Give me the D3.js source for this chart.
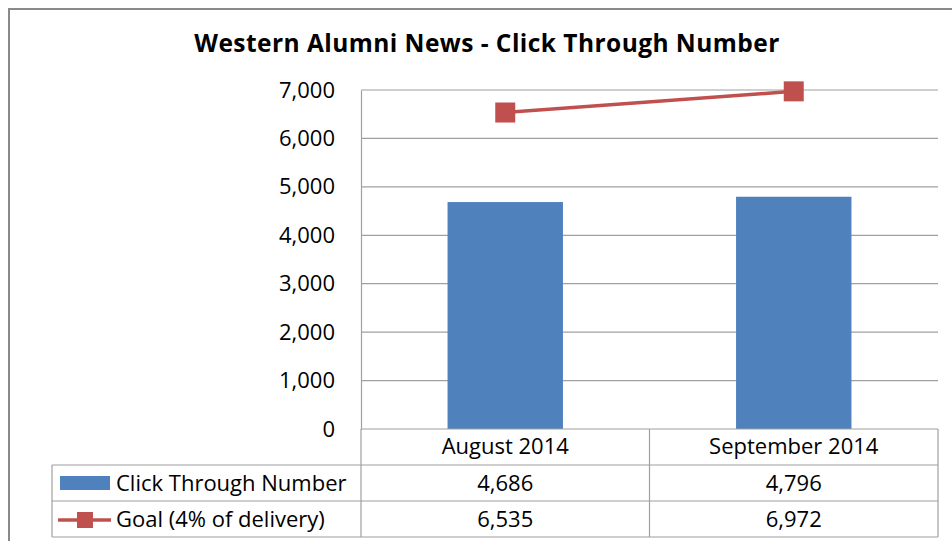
<!DOCTYPE html>
<html>
<head>
<meta charset="utf-8">
<script src="https://cdn.jsdelivr.net/npm/d3@7"></script>
<style>
  body { margin: 0; background: #fff; }
  text { font-family: "Open Sans", sans-serif; fill: #000; }
</style>
</head>
<body>
<div id="chart"></div>
<script>
// data
const months = ['August 2014', 'September 2014'];
const clicks = [4686, 4796];
const goal = [6535, 6972];
const yTicks = [0, 1000, 2000, 3000, 4000, 5000, 6000, 7000];
const seriesNames = ['Click Through Number', 'Goal (4% of delivery)'];

const width = 952, height = 541;
const plot = {left: 361, right: 938, top: 90, bottom: 429};
const tableLeft = 52;
const rowH = 36;
const barColor = '#4F81BD', lineColor = '#C0504D', gridColor = '#a0a0a0';
const fontSize = '22px';

const svg = d3.select('#chart').append('svg')
  .attr('width', width)
  .attr('height', height);

// outer chart border (cut off right/bottom like the screenshot)
svg.append('rect')
  .attr('x', 9).attr('y', 9)
  .attr('width', width + 20).attr('height', height + 20)
  .attr('fill', '#fff')
  .attr('stroke', '#8a8a8a')
  .attr('stroke-width', 2);

svg.append('text')
  .attr('x', 487).attr('y', 52)
  .attr('text-anchor', 'middle')
  .style('font-size', '24.5px')
  .style('font-weight', 'bold')
  .style('letter-spacing', '0.45px')
  .text('Western Alumni News - Click Through Number');

const x = d3.scaleBand().domain(months).range([plot.left, plot.right]).paddingInner(0).paddingOuter(0);
const y = d3.scaleLinear().domain([0, 7000]).range([plot.bottom, plot.top]);

// gridlines
svg.append('g').selectAll('line')
  .data(yTicks.filter(d => d > 0))
  .join('line')
  .attr('x1', plot.left).attr('x2', plot.right)
  .attr('y1', d => y(d)).attr('y2', d => y(d))
  .attr('stroke', gridColor).attr('stroke-width', 1.2);

// y axis
const yAxis = d3.axisLeft(y).tickValues(yTicks).tickSize(0).tickPadding(26)
  .tickFormat(d3.format(','));
svg.append('g')
  .attr('transform', `translate(${plot.left},0)`)
  .call(yAxis)
  .call(g => g.select('.domain').attr('stroke', gridColor).attr('stroke-width', 1.2))
  .call(g => g.selectAll('text').style('font-size', fontSize).style('font-family', '"Open Sans", sans-serif').attr('fill', '#000'));

// bars
const barW = x.bandwidth() * 0.4;
svg.append('g').selectAll('rect')
  .data(clicks)
  .join('rect')
  .attr('x', (d, i) => x(months[i]) + (x.bandwidth() - barW) / 2)
  .attr('y', d => y(d))
  .attr('width', barW)
  .attr('height', d => y(0) - y(d))
  .attr('fill', barColor);

// goal line
const cx = i => x(months[i]) + x.bandwidth() / 2;
svg.append('path')
  .datum(goal)
  .attr('d', d3.line().x((d, i) => cx(i)).y(d => y(d)))
  .attr('fill', 'none')
  .attr('stroke', lineColor)
  .attr('stroke-width', 3.5);

svg.append('g').selectAll('rect')
  .data(goal)
  .join('rect')
  .attr('x', (d, i) => cx(i) - 10)
  .attr('y', d => y(d) - 10)
  .attr('width', 20).attr('height', 20)
  .attr('fill', lineColor);

// data table
const tbl = svg.append('g');
const rowY = [plot.bottom, plot.bottom + rowH, plot.bottom + rowH * 2, plot.bottom + rowH * 3];
const lineAttr = sel => sel.attr('stroke', gridColor).attr('stroke-width', 1.2);

// horizontal lines
tbl.append('line').attr('x1', plot.left).attr('x2', plot.right)
  .attr('y1', rowY[0]).attr('y2', rowY[0]).call(lineAttr);
tbl.selectAll('.hrow')
  .data(rowY.slice(1))
  .join('line')
  .attr('x1', tableLeft).attr('x2', plot.right)
  .attr('y1', d => d).attr('y2', d => d)
  .call(lineAttr);
// vertical lines
tbl.append('line').attr('x1', tableLeft).attr('x2', tableLeft)
  .attr('y1', rowY[1]).attr('y2', rowY[3]).call(lineAttr);
tbl.selectAll('.vcol')
  .data([plot.left, x(months[1]), plot.right])
  .join('line')
  .attr('x1', d => d).attr('x2', d => d)
  .attr('y1', rowY[0]).attr('y2', rowY[3])
  .call(lineAttr);

// category header
tbl.selectAll('.cat')
  .data(months)
  .join('text')
  .attr('x', (d, i) => cx(i))
  .attr('y', rowY[0] + 25)
  .attr('text-anchor', 'middle')
  .style('font-size', fontSize)
  .text(d => d);

// value cells
[clicks, goal].forEach((vals, r) => {
  tbl.selectAll('.val' + r)
    .data(vals)
    .join('text')
    .attr('x', (d, i) => cx(i))
    .attr('y', rowY[r + 1] + 26)
    .attr('text-anchor', 'middle')
    .style('font-size', fontSize)
    .text(d => d3.format(',')(d));
});

// legend keys in row headers
tbl.append('rect')
  .attr('x', 60).attr('y', rowY[1] + 11)
  .attr('width', 50).attr('height', 14)
  .attr('fill', barColor);
tbl.append('line')
  .attr('x1', 58).attr('x2', 111)
  .attr('y1', rowY[2] + 19).attr('y2', rowY[2] + 19)
  .attr('stroke', lineColor).attr('stroke-width', 3.5);
tbl.append('rect')
  .attr('x', 77).attr('y', rowY[2] + 11)
  .attr('width', 16).attr('height', 16)
  .attr('fill', lineColor);

tbl.selectAll('.sname')
  .data(seriesNames)
  .join('text')
  .attr('x', 116)
  .attr('y', (d, i) => rowY[i + 1] + 26)
  .style('font-size', fontSize)
  .text(d => d);
</script>
</body>
</html>
